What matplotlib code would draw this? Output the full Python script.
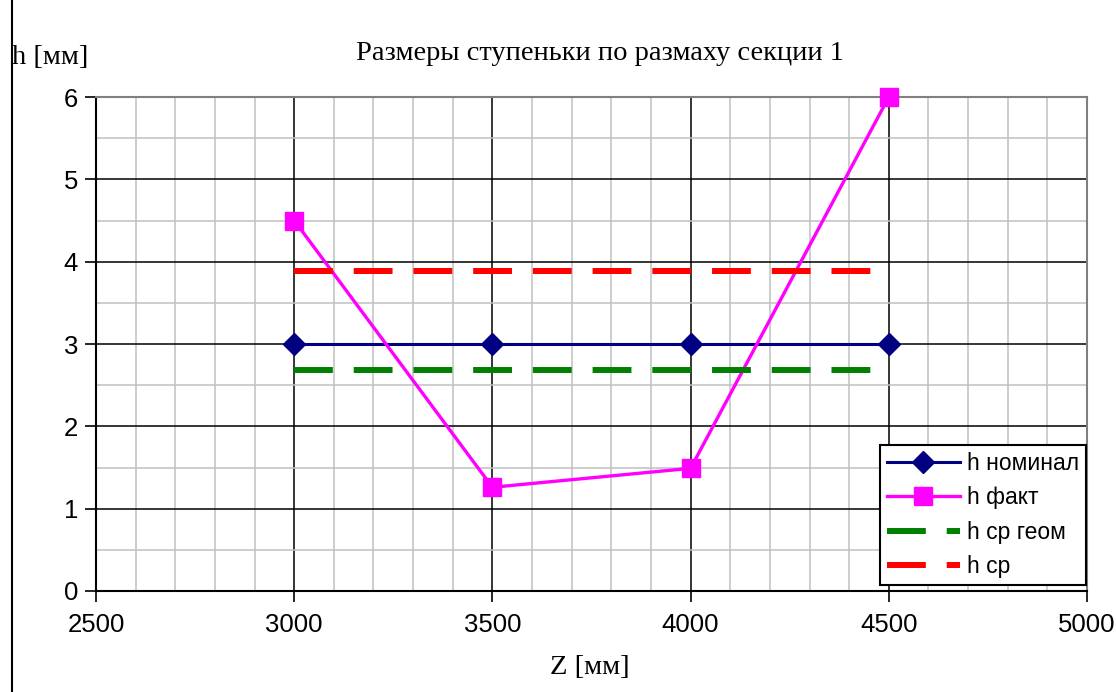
import numpy as np
import matplotlib.pyplot as plt
from matplotlib.lines import Line2D
from matplotlib.ticker import MultipleLocator

# data
z = [3000, 3500, 4000, 4500]
h_nominal = [3, 3, 3, 3]
h_fact = [4.5, 1.26, 1.49, 6.0]
h_cp_geom = [2.68, 2.68, 2.68, 2.68]
h_cp = [3.89, 3.89, 3.89, 3.89]

labels = ['h номинал', 'h факт', 'h ср геом', 'h ср']
title = 'Размеры ступеньки по размаху секции 1'

sans = ['Liberation Sans', 'DejaVu Sans']
serif = ['Liberation Serif', 'DejaVu Serif']
plt.rcParams['font.family'] = sans

W, H = 1116, 692
fig = plt.figure(figsize=(W / 100, H / 100), dpi=100)
ax = fig.add_axes([96 / W, (H - 591) / H, (1087 - 96) / W, (591 - 97) / H])

ax.plot(z, h_nominal, color='#000080', lw=2.2, marker='D', markersize=11,
        label=labels[0], zorder=3, clip_on=False)
ax.plot(z, h_fact, color='#ff00ff', lw=2.4, marker='s', markersize=13,
        label=labels[1], zorder=4, clip_on=False)
ax.plot(z, h_cp_geom, color='#008000', lw=4.3, dashes=(6.5, 3.5),
        label=labels[2], zorder=5)
ax.plot(z, h_cp, color='#ff0000', lw=4.3, dashes=(6.5, 3.5),
        label=labels[3], zorder=6)

ax.set_xlim(2500, 5000)
ax.set_ylim(0, 6)
ax.xaxis.set_major_locator(MultipleLocator(500))
ax.xaxis.set_minor_locator(MultipleLocator(100))
ax.yaxis.set_major_locator(MultipleLocator(1))
ax.yaxis.set_minor_locator(MultipleLocator(0.5))

ax.grid(which='minor', color='#c0c0c0', lw=1.1, zorder=0)
ax.grid(which='major', color='black', lw=1.1, zorder=1)
ax.set_axisbelow(True)

ax.tick_params(which='major', direction='out', length=8, width=1.2,
               labelsize=18.5, pad=5, colors='black')
ax.tick_params(which='minor', length=0)
ax.tick_params(axis='x', pad=8)

for s in ['left', 'bottom']:
    ax.spines[s].set_color('black')
    ax.spines[s].set_linewidth(1.5)
for s in ['top', 'right']:
    ax.spines[s].set_color('#808080')
    ax.spines[s].set_linewidth(1.5)

fig.text(600 / W, 1 - 53 / H, title, family=serif, fontsize=20.5,
         ha='center', va='center')
fig.text(12 / W, 1 - 58 / H, 'h [мм]', family=serif, fontsize=20.5,
         ha='left', va='center')
fig.text(590 / W, 1 - 667 / H, 'Z [мм]', family=serif, fontsize=20.5,
         ha='center', va='center')

leg = ax.legend(loc='lower right', bbox_to_anchor=(1086 / W, (H - 585) / H),
                bbox_transform=fig.transFigure, fontsize=16.5, frameon=True,
                fancybox=False, framealpha=1, edgecolor='black',
                handlelength=3.2, numpoints=1, borderpad=0.3,
                labelspacing=0.5, handletextpad=0.3, borderaxespad=0)
leg.get_frame().set_linewidth(1.5)
leg.set_zorder(10)

# left border of the chart area
fig.add_artist(Line2D([12 / W, 12 / W], [0, 1], color='black', lw=1.5))

fig.savefig('out.png', dpi=100)
